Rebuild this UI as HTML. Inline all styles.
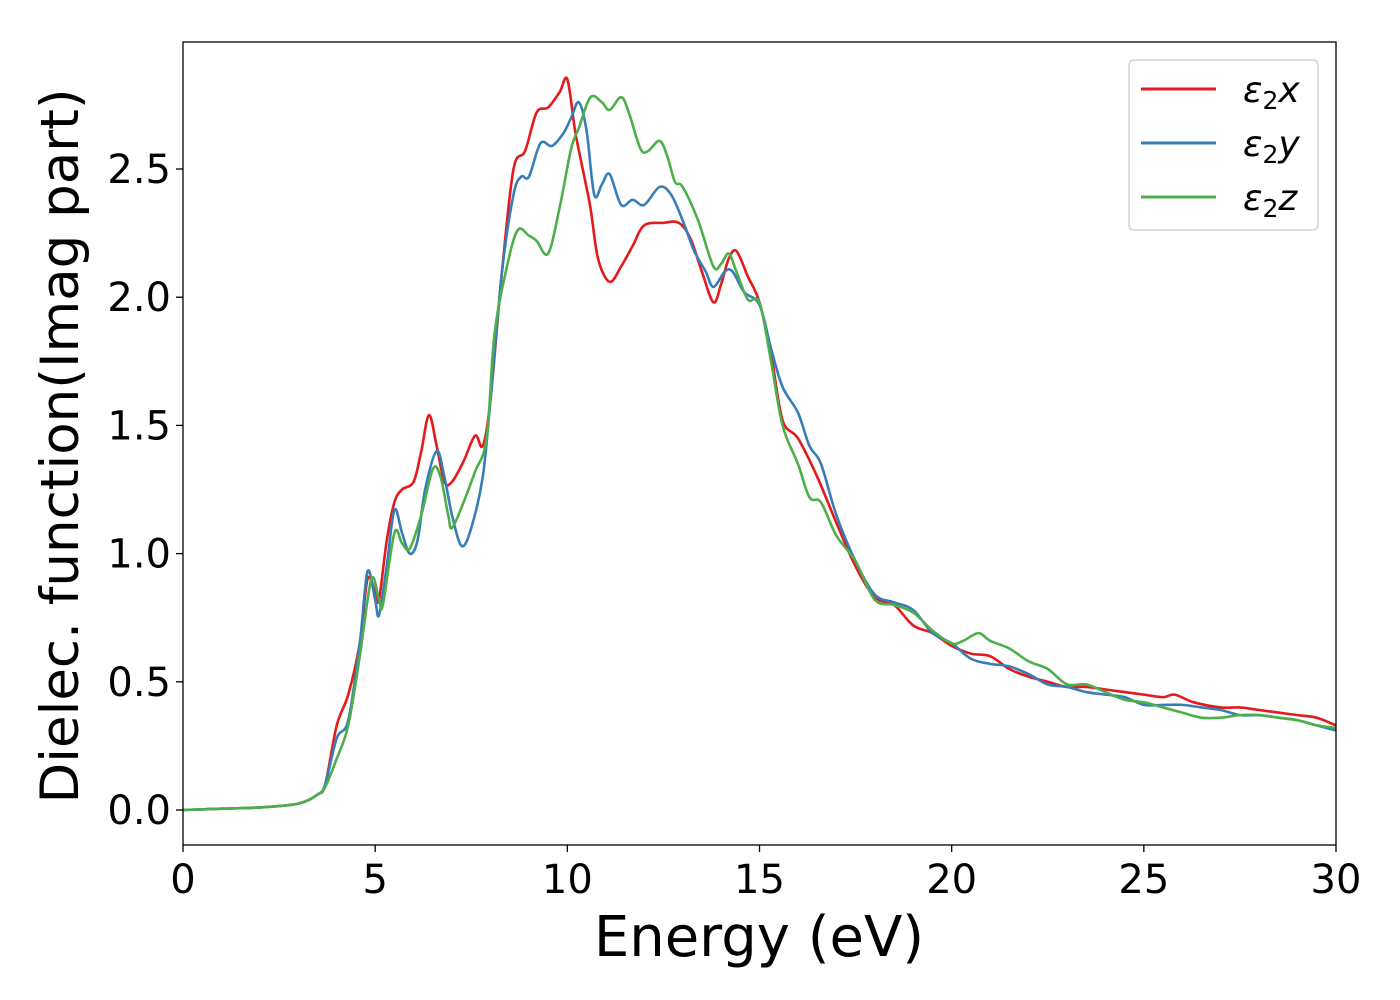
<!DOCTYPE html>
<html><head><meta charset="utf-8"><style>
html,body{margin:0;padding:0;background:#fff;}
svg{display:block;font-family:"DejaVu Sans","Liberation Sans",sans-serif;}
</style></head><body>
<svg id="chart" width="1400" height="1000">
<rect x="0" y="0" width="1400" height="1000" fill="#fff"/>
<g id="ticks"></g>
<g id="series"></g>
<rect x="183" y="42" width="1153" height="803" fill="none" stroke="#000" stroke-width="1.3"/>
<text x="759" y="956" font-size="56" text-anchor="middle">Energy (eV)</text>
<text transform="translate(78,446) rotate(-90)" font-size="53" text-anchor="middle">Dielec. function(Imag part)</text>
<g>
<rect x="1129" y="60" width="189" height="170" rx="5" fill="#fff" stroke="#ccc" stroke-width="1.3"/>
<line x1="1141" y1="89" x2="1216" y2="89" stroke="#e41a1c" stroke-width="3"/>
<line x1="1141" y1="143" x2="1216" y2="143" stroke="#377eb8" stroke-width="3"/>
<line x1="1141" y1="197" x2="1216" y2="197" stroke="#4daf4a" stroke-width="3"/>
<text x="1243" y="102" font-size="36" font-style="italic">ε<tspan font-style="normal" font-size="25" dy="7">2</tspan><tspan dy="-7">x</tspan></text>
<text x="1243" y="156" font-size="36" font-style="italic">ε<tspan font-style="normal" font-size="25" dy="7">2</tspan><tspan dy="-7">y</tspan></text>
<text x="1243" y="210" font-size="36" font-style="italic">ε<tspan font-style="normal" font-size="25" dy="7">2</tspan><tspan dy="-7">z</tspan></text>
</g>
</svg>
<script>
const xTicks=[0,5,10,15,20,25,30];
const yTicks=[0.0,0.5,1.0,1.5,2.0,2.5];
const yTickLabels=["0.0","0.5","1.0","1.5","2.0","2.5"];
const exE=[0,1,2,3,3.5,3.7,4,4.3,4.6,4.8,5,5.1,5.3,5.5,5.7,6,6.2,6.4,6.6,6.8,7,7.3,7.6,7.8,8,8.3,8.6,8.9,9.2,9.5,9.8,10,10.2,10.4,10.6,10.8,11.1,11.4,11.7,12,12.5,12.9,13.2,13.5,13.8,14,14.2,14.4,14.7,15,15.3,15.6,16,16.5,17,17.5,18,18.5,19,19.5,20,20.5,21,21.5,22,22.5,23,23.5,24,24.5,25,25.5,25.8,26.3,27,27.5,28,28.5,29,29.5,30];
const exV=[0,0.005,0.01,0.025,0.06,0.1,0.33,0.45,0.65,0.9,0.85,0.82,1.05,1.2,1.25,1.28,1.4,1.54,1.42,1.28,1.28,1.36,1.46,1.42,1.6,2.1,2.5,2.57,2.72,2.74,2.8,2.85,2.65,2.5,2.35,2.15,2.06,2.12,2.2,2.28,2.29,2.29,2.23,2.1,1.98,2.05,2.15,2.18,2.08,1.98,1.78,1.52,1.45,1.3,1.12,0.95,0.83,0.8,0.72,0.69,0.64,0.61,0.6,0.55,0.52,0.5,0.48,0.48,0.47,0.46,0.45,0.44,0.45,0.42,0.40,0.40,0.39,0.38,0.37,0.36,0.33];
const eyE=[0,1,2,3,3.5,3.7,4,4.3,4.6,4.8,5,5.1,5.3,5.5,5.7,5.9,6.1,6.3,6.6,6.8,7,7.25,7.5,7.8,8,8.3,8.6,8.8,9,9.3,9.6,9.9,10.1,10.3,10.5,10.7,10.9,11.1,11.4,11.7,12,12.4,12.7,13,13.3,13.6,13.8,14.1,14.3,14.6,15,15.3,15.6,16,16.3,16.6,17,17.5,18,18.5,19,19.5,20,20.5,21,21.5,22,22.5,23,23.5,24,24.5,25,25.5,26,26.5,27,27.5,28,28.5,29,29.5,30];
const eyV=[0,0.005,0.01,0.025,0.06,0.1,0.28,0.35,0.65,0.93,0.82,0.76,0.95,1.17,1.08,1.0,1.05,1.25,1.4,1.3,1.15,1.03,1.1,1.3,1.6,2.1,2.4,2.47,2.47,2.6,2.59,2.64,2.7,2.76,2.65,2.4,2.44,2.48,2.36,2.38,2.36,2.43,2.4,2.3,2.18,2.1,2.04,2.1,2.1,2.02,1.97,1.8,1.65,1.55,1.42,1.35,1.15,0.97,0.84,0.81,0.78,0.69,0.65,0.59,0.57,0.56,0.53,0.49,0.48,0.46,0.45,0.44,0.41,0.41,0.41,0.40,0.39,0.37,0.37,0.36,0.35,0.33,0.31];
const ezE=[0,1,2,3,3.5,3.7,4,4.3,4.6,4.9,5.1,5.2,5.5,5.7,5.9,6.2,6.5,6.7,6.9,7,7.3,7.6,7.9,8.1,8.4,8.7,9,9.2,9.5,9.8,10.1,10.3,10.6,10.9,11.1,11.4,11.6,11.9,12.1,12.4,12.6,12.8,13,13.4,13.8,14,14.2,14.4,14.7,15,15.3,15.6,16,16.3,16.6,17,17.5,18,18.5,19,19.5,20,20.3,20.7,21,21.5,22,22.5,23,23.5,24,24.5,25,25.5,26,26.5,27,27.5,28,28.5,29,29.5,30];
const ezV=[0,0.005,0.01,0.025,0.06,0.09,0.2,0.33,0.6,0.9,0.82,0.8,1.08,1.04,1.02,1.15,1.33,1.3,1.15,1.1,1.2,1.32,1.45,1.85,2.1,2.26,2.24,2.22,2.17,2.35,2.58,2.66,2.78,2.76,2.73,2.78,2.72,2.58,2.57,2.61,2.55,2.45,2.43,2.3,2.12,2.13,2.17,2.1,1.99,1.98,1.75,1.5,1.35,1.22,1.2,1.07,0.97,0.82,0.8,0.77,0.7,0.65,0.66,0.69,0.66,0.63,0.58,0.55,0.49,0.49,0.46,0.43,0.42,0.40,0.38,0.36,0.36,0.37,0.37,0.36,0.35,0.33,0.32];

const NS="http://www.w3.org/2000/svg";
const X0=183,X1=1336,Y0=810,Ypu=256.4;
function sx(v){return X0+(X1-X0)*v/30;}
function sy(v){return Y0-v*Ypu;}
const tg=document.getElementById('ticks');
xTicks.forEach(t=>{
 const l=document.createElementNS(NS,'line');
 l.setAttribute('x1',sx(t));l.setAttribute('x2',sx(t));l.setAttribute('y1',845);l.setAttribute('y2',852);
 l.setAttribute('stroke','#000');l.setAttribute('stroke-width','1.3');
 
 
 tg.appendChild(l);
 const tx=document.createElementNS(NS,'text');
 tx.setAttribute('x',sx(t));tx.setAttribute('y',893);tx.setAttribute('font-size','40');tx.setAttribute('text-anchor','middle');
 tx.textContent=String(t);
 
 
 tg.appendChild(tx);
});
yTicks.forEach((t,i)=>{
 const l=document.createElementNS(NS,'line');
 l.setAttribute('x1',176);l.setAttribute('x2',183);l.setAttribute('y1',sy(t));l.setAttribute('y2',sy(t));
 l.setAttribute('stroke','#000');l.setAttribute('stroke-width','1.3');
 
 
 tg.appendChild(l);
 const tx=document.createElementNS(NS,'text');
 tx.setAttribute('x',171);tx.setAttribute('y',sy(t)+14);tx.setAttribute('font-size','40');tx.setAttribute('text-anchor','end');
 tx.textContent=yTickLabels[i];
 
 
 tg.appendChild(tx);
});
function pathFor(E,V){
 const p=E.map((e,i)=>[sx(e),sy(V[i])]);
 let d='M'+p[0][0]+','+p[0][1];
 for(let i=0;i<p.length-1;i++){
  const a=p[Math.max(0,i-1)],b=p[i],c=p[i+1],e=p[Math.min(p.length-1,i+2)];
  const c1=[b[0]+(c[0]-a[0])/6,b[1]+(c[1]-a[1])/6];
  const c2=[c[0]-(e[0]-b[0])/6,c[1]-(e[1]-b[1])/6];
  d+=' C'+c1[0].toFixed(2)+','+c1[1].toFixed(2)+' '+c2[0].toFixed(2)+','+c2[1].toFixed(2)+' '+c[0].toFixed(2)+','+c[1].toFixed(2);
 }
 return d;
}
const sg=document.getElementById('series');
[[exE,exV,'#e41a1c','series-eps2x'],[eyE,eyV,'#377eb8','series-eps2y'],[ezE,ezV,'#4daf4a','series-eps2z']].forEach(s=>{
 const pth=document.createElementNS(NS,'path');
 pth.setAttribute('d',pathFor(s[0],s[1]));
 pth.setAttribute('fill','none');pth.setAttribute('stroke',s[2]);pth.setAttribute('stroke-width','2.6');
 
 
 sg.appendChild(pth);
});
</script>
</body></html>
